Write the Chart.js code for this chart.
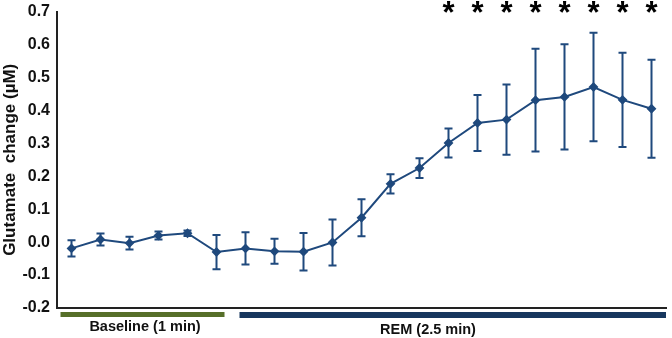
<!DOCTYPE html>
<html>
<head>
<meta charset="utf-8">
<script src="https://cdn.jsdelivr.net/npm/chart.js@4/dist/chart.umd.min.js"></script>
<style>
  html, body { margin: 0; padding: 0; background: #fff; }
  #wrap { width: 672px; height: 338px; position: relative; }
</style>
</head>
<body>
<div id="wrap"><canvas id="c"></canvas></div>
<script>
// time bins, 10 s each: 6 baseline bins then 15 REM bins
var categories = ['-60', '-50', '-40', '-30', '-20', '-10', '0', '10', '20', '30', '40',
                  '50', '60', '70', '80', '90', '100', '110', '120', '130', '140'];
var meanValues = [-0.019, 0.008, -0.003, 0.020, 0.027, -0.030, -0.019, -0.028, -0.029, -0.001, 0.074,
                  0.177, 0.225, 0.301, 0.362, 0.372, 0.431, 0.441, 0.471, 0.432, 0.405];
var semValues = [0.025, 0.018, 0.019, 0.012, 0.008, 0.052, 0.049, 0.038, 0.057, 0.070, 0.056,
                 0.029, 0.030, 0.044, 0.085, 0.107, 0.156, 0.160, 0.165, 0.143, 0.149];
var significant = [13, 14, 15, 16, 17, 18, 19, 20];
var yTicks = [-0.2, -0.1, 0.0, 0.1, 0.2, 0.3, 0.4, 0.5, 0.6, 0.7];

var FONT = '"Liberation Sans", Arial, sans-serif';
var BLUE = '#1f497d';

// error bars, asterisks, and the baseline / REM bars under the axis
var extras = {
  id: 'extras',
  afterDatasetsDraw: function(chart) {
    var ctx = chart.ctx, x = chart.scales.x, y = chart.scales.y;
    ctx.save();
    ctx.strokeStyle = BLUE;
    ctx.lineWidth = 2;
    for (var i = 0; i < meanValues.length; i++) {
      var px = x.getPixelForValue(i);
      var top = y.getPixelForValue(meanValues[i] + semValues[i]);
      var bot = y.getPixelForValue(meanValues[i] - semValues[i]);
      ctx.beginPath();
      ctx.moveTo(px, top); ctx.lineTo(px, bot);
      ctx.moveTo(px - 4, top); ctx.lineTo(px + 4, top);
      ctx.moveTo(px - 4, bot); ctx.lineTo(px + 4, bot);
      ctx.stroke();
    }
    ctx.fillStyle = '#000';
    ctx.font = 'bold 31px ' + FONT;
    ctx.textAlign = 'center';
    ctx.textBaseline = 'top';
    significant.forEach(function(i) {
      ctx.fillText('*', x.getPixelForValue(i), -1);
    });

    var by = y.bottom + 4;
    ctx.fillStyle = '#566f29';
    var g0 = x.getPixelForValue(0) - 11, g1 = x.getPixelForValue(5) + 8;
    ctx.fillRect(g0, by, g1 - g0, 5);
    ctx.fillStyle = '#17375e';
    var r0 = x.getPixelForValue(6) - 6, r1 = chart.chartArea.right;
    ctx.fillRect(r0, by, r1 - r0, 6);

    ctx.fillStyle = '#111';
    ctx.font = 'bold 14.5px ' + FONT;
    ctx.textBaseline = 'middle';
    ctx.fillText('Baseline (1 min)', 145, 327);
    ctx.fillText('REM (2.5 min)', 428, 330);
    ctx.restore();
  }
};

new Chart(document.getElementById('c'), {
  type: 'line',
  data: {
    labels: categories,
    datasets: [{
      data: meanValues,
      borderColor: BLUE,
      backgroundColor: BLUE,
      borderWidth: 2,
      pointStyle: 'rectRot',
      pointRadius: 3.5,
      tension: 0
    }]
  },
  options: {
    responsive: true,
    maintainAspectRatio: false,
    animation: false,
    layout: { padding: { top: 11, right: 0 } },
    plugins: { legend: { display: false }, tooltip: { enabled: false } },
    scales: {
      x: {
        offset: true,
        grid: { display: false },
        border: { display: true, color: '#222', width: 2 },
        ticks: { display: false },
        afterFit: function(s) { s.height = 30; }
      },
      y: {
        min: -0.2,
        max: 0.7,
        afterBuildTicks: function(s) { s.ticks = yTicks.map(function(v) { return { value: v }; }); },
        grid: { display: false, drawTicks: true, tickLength: 5, drawOnChartArea: false },
        border: { display: true, color: '#222', width: 2 },
        ticks: {
          color: '#111',
          padding: 2,
          font: { family: FONT, size: 16, weight: 'bold' },
          callback: function(v) { return v.toFixed(1); }
        },
        title: {
          display: true,
          text: 'Glutamate  change (\u00b5M)',
          color: '#111',
          padding: { top: 0, bottom: 0 },
          font: { family: FONT, size: 17, weight: 'bold' }
        },
        afterFit: function(s) { s.width = 57; }
      }
    }
  },
  plugins: [extras]
});
</script>
</body>
</html>
